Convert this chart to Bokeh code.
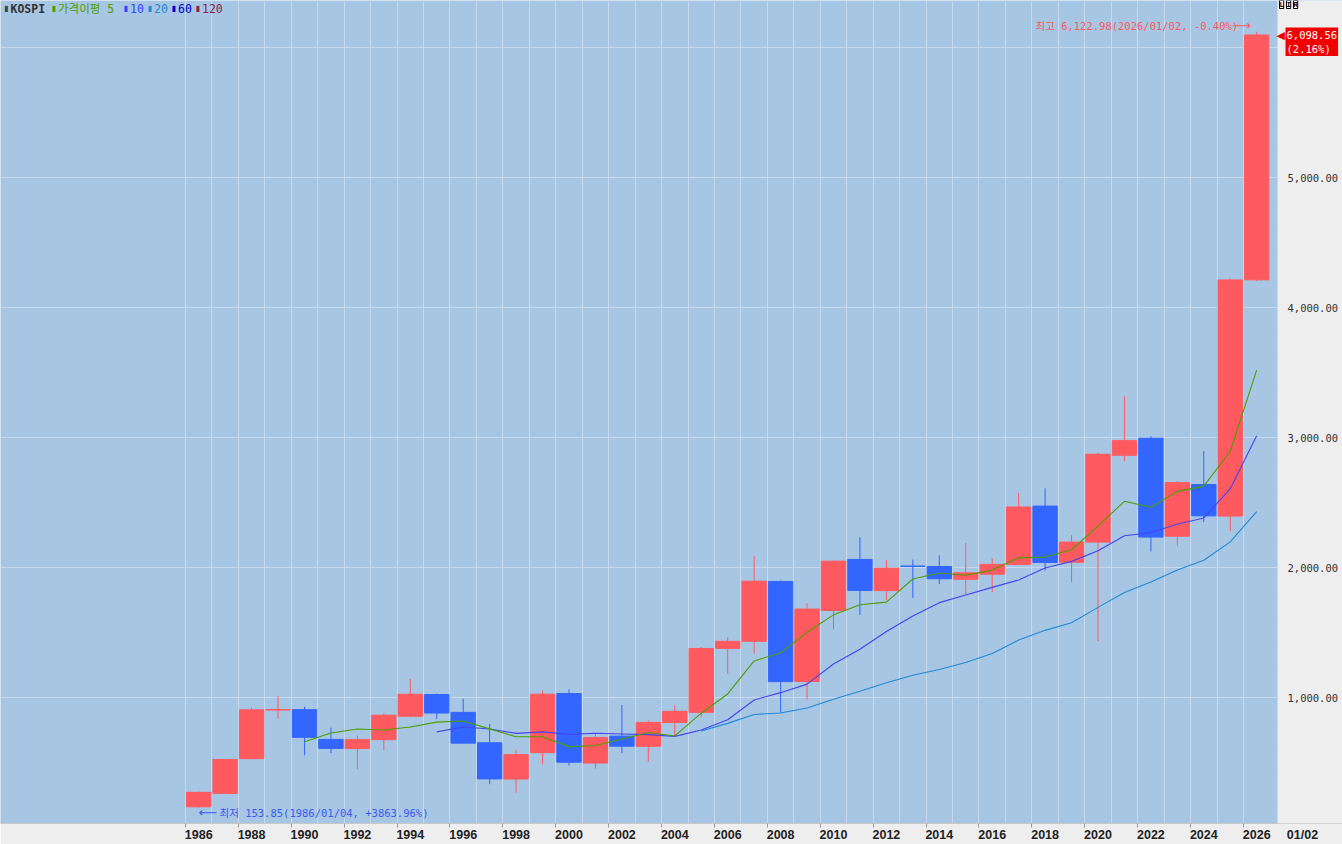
from bokeh.plotting import figure
from bokeh.models import Range1d, FixedTicker, Label, ColumnDataSource, BoxAnnotation
from bokeh.embed import file_html
from bokeh.resources import INLINE

# ---------------- data (yearly KOSPI candles) ----------------
years = list(range(1986, 2027))
opens = [161.4, 264.8, 532.0, 906.0, 908.6, 679.8, 610.0, 678.0, 858.0, 1025.0,
         888.0, 654.0, 375.0, 578.0, 1033.0, 498.0, 705.0, 627.0, 810.0, 888.0,
         1380.0, 1435.0, 1895.0, 1125.0, 1672.0, 2064.0, 1825.0, 2013.0, 2010.0, 1912.0,
         1951.0, 2026.5, 2475.0, 2043.0, 2197.7, 2866.0, 2997.0, 2243.0, 2641.0, 2398.0,
         4215.0]
highs = [279.7, 525.1, 922.6, 1012.0, 932.0, 770.0, 710.0, 879.0, 1145.0, 1033.0,
         994.0, 800.0, 600.0, 1055.0, 1065.0, 720.0, 945.0, 825.0, 942.0, 1390.0,
         1465.0, 2090.0, 1903.0, 1727.0, 2058.0, 2235.0, 2058.0, 2064.0, 2095.0, 2189.0,
         2073.0, 2575.0, 2612.0, 2250.0, 2884.0, 3320.0, 3012.0, 2667.0, 2898.0, 4226.0,
         6122.98]
lows = [153.85, 264.8, 527.9, 840.0, 558.0, 574.0, 451.0, 597.0, 850.0, 835.0,
        651.2, 335.0, 270.0, 488.0, 478.0, 455.0, 574.0, 510.0, 708.0, 855.0,
        1186.0, 1340.0, 886.0, 987.0, 1526.0, 1637.0, 1750.0, 1767.0, 1875.0, 1795.0,
        1813.0, 2020.0, 1980.0, 1888.0, 1435.0, 2820.0, 2125.0, 2172.0, 2351.0, 2282.0,
        4205.0]
closes = [272.6, 525.1, 907.2, 909.7, 696.1, 610.9, 678.4, 866.2, 1027.4, 882.9,
          651.2, 376.3, 562.5, 1028.1, 504.6, 693.7, 627.6, 810.7, 895.9, 1379.4,
          1434.5, 1897.1, 1124.5, 1682.8, 2051.0, 1825.7, 1997.1, 2011.3, 1915.6, 1961.3,
          2026.5, 2467.5, 2041.0, 2197.7, 2873.5, 2977.7, 2236.4, 2655.3, 2399.5, 4214.2,
          6098.56]

# moving-average lines (가격이평 5 / 10 / 20)
ma5_years = list(range(1990, 2027))
ma5 = [662.1, 729.8, 760.5, 752.3, 775.8, 813.2, 821.2, 760.8, 700.1, 700.2,
       624.5, 633.0, 683.3, 732.9, 706.5, 881.5, 1029.6, 1283.5, 1346.3, 1503.7,
       1638.0, 1716.2, 1736.2, 1913.6, 1960.1, 1942.2, 1982.4, 2076.4, 2082.4, 2138.8,
       2321.2, 2511.5, 2465.3, 2588.1, 2628.5, 2896.6, 3520.8]
ma10_years = list(range(1995, 2027))
ma10 = [737.7, 775.5, 760.6, 726.2, 738.0, 718.9, 727.1, 722.1, 716.5, 703.4,
        753.0, 831.3, 983.4, 1039.6, 1105.1, 1259.7, 1372.9, 1509.9, 1629.9, 1731.9,
        1790.1, 1849.3, 1906.3, 1998.0, 2049.5, 2131.7, 2246.9, 2270.9, 2335.3, 2383.6,
        2608.9, 3016.1]
ma20_years = list(range(2005, 2027))
ma20 = [745.3, 803.4, 872.0, 882.9, 921.5, 989.3, 1050.0, 1116.0, 1173.2, 1217.6,
        1271.5, 1340.3, 1444.9, 1518.8, 1577.3, 1695.7, 1809.9, 1890.4, 1982.6, 2057.8,
        2199.5, 2432.7]

x_label_years = list(range(1986, 2027, 2))
y_label_ticks = [1000, 2000, 3000, 4000, 5000]
y_tick_labels = ["1,000.00", "2,000.00", "3,000.00", "4,000.00", "5,000.00"]
y_minor_ticks = [v for v in range(200, 6400, 200)]
y_grid_ticks = [1000, 2000, 3000, 4000, 5000, 6000]

high_text = "최고 6,122.98(2026/01/02, -0.40%)"
low_text = "최저 153.85(1986/01/04, +3863.96%)"
last_text = "6,098.56\n(2.16%)"
date_text = "01/02"

# ---------------- styles / geometry ----------------
RED = "#ff5a5f"
BLUE = "#3366ff"
BG = "#a7c6e3"
GRID = "#c5daee"
PANEL = "#eeeeee"
MONO = "DejaVu Sans Mono, Noto Sans CJK KR"
W, H = 1342, 844
X0, X1 = 1978.507, 2029.244       # frame spans the full canvas width
PX_PER_YEAR = W / (X1 - X0)
PANEL_LEFT = 2026.786              # where the price-axis panel begins


def px2x(px):
    return X0 + px / PX_PER_YEAR


colors = [RED if c >= o else BLUE for o, c in zip(opens, closes)]
src = ColumnDataSource(dict(
    x=years, o=opens, h=highs, l=lows, c=closes,
    top=[max(o, c) for o, c in zip(opens, closes)],
    bottom=[min(o, c) for o, c in zip(opens, closes)],
    color=colors,
))

p = figure(width=W, height=H, output_backend="svg", toolbar_location=None,
           x_range=Range1d(X0, X1), y_range=Range1d(33.1, 6363.8),
           y_axis_location=None, min_border_left=0, min_border_top=0,
           min_border_right=0, min_border_bottom=21)
p.background_fill_color = BG
p.border_fill_color = PANEL
p.outline_line_color = None

# grid
p.xgrid.ticker = FixedTicker(ticks=[y - 0.5 for y in years])
p.ygrid.ticker = FixedTicker(ticks=y_grid_ticks)
p.grid.grid_line_color = GRID
p.grid.grid_line_width = 1

# x axis (years + the current date in the corner)
date_x = px2x(1302)
xa = p.xaxis[0]
xa.ticker = FixedTicker(ticks=x_label_years + [date_x],
                        minor_ticks=[y - 0.5 for y in x_label_years])
overrides = {y: str(y) for y in x_label_years}
overrides[date_x] = date_text
xa.major_label_overrides = overrides
xa.major_tick_line_color = None
xa.major_tick_out = 0
xa.major_tick_in = 0
xa.minor_tick_line_color = "#9a9a9a"
xa.minor_tick_out = 4
xa.minor_tick_in = 0
xa.axis_line_color = "#c8c8c8"
xa.major_label_text_font = "Liberation Sans"
xa.major_label_text_font_style = "bold"
xa.major_label_text_font_size = "12.5px"
xa.major_label_text_color = "#222222"
xa.major_label_standoff = 0

# candles
p.segment(x0="x", y0="l", x1="x", y1="h", source=src, line_color="color", line_width=1)
p.vbar(x="x", width=0.92, top="top", bottom="bottom", source=src,
       fill_color="color", line_color="color", line_width=1)

# moving averages
p.line(ma20_years, ma20, line_color="#1f8ad8", line_width=1.1)
p.line(ma10_years, ma10, line_color="#4444f4", line_width=1.1)
p.line(ma5_years, ma5, line_color="#4d9e00", line_width=1.1)

# price-axis panel on the right
p.add_layout(BoxAnnotation(left=PANEL_LEFT, fill_color=PANEL, fill_alpha=1.0,
                           line_color=None))
p.segment(x0=[PANEL_LEFT] * len(y_minor_ticks), y0=y_minor_ticks,
          x1=[px2x(1280)] * len(y_minor_ticks), y1=y_minor_ticks,
          line_color="#aaaaaa", line_width=1, level="annotation")
p.segment(x0=[PANEL_LEFT] * len(y_label_ticks), y0=y_label_ticks,
          x1=[px2x(1282.5)] * len(y_label_ticks), y1=y_label_ticks,
          line_color="#888888", line_width=1, level="annotation")
for v, t in zip(y_label_ticks, y_tick_labels):
    p.add_layout(Label(x=px2x(1287), y=v, text=t, text_font="DejaVu Sans Mono",
                       text_font_size="10.5px", text_color="#333333",
                       text_baseline="middle"))


def cv(px, py, **kw):
    """Label placed in canvas pixels (origin top-left)."""
    return Label(x=px, y=py, x_units="canvas", y_units="canvas", **kw)


# annotations: high / low markers
p.add_layout(cv(1035, 25, text=high_text, text_font=MONO, text_font_size="10.5px",
                text_color=RED, text_baseline="middle"))
p.add_layout(cv(1232, 25, text="⟶", text_font="DejaVu Sans", text_font_size="13px",
                text_color=RED, text_baseline="middle"))
p.add_layout(cv(198, 812, text="⟵", text_font="DejaVu Sans", text_font_size="13px",
                text_color="#3c5af0", text_baseline="middle"))
p.add_layout(cv(219, 812, text=low_text, text_font=MONO, text_font_size="10.5px",
                text_color="#3c5af0", text_baseline="middle"))

# last price box on the price axis
p.add_layout(cv(1276, 35, text="◀", text_font="DejaVu Sans", text_font_size="11px",
                text_color="#f00000", text_baseline="middle"))
p.add_layout(cv(1285, 27, text=last_text, text_font=MONO, text_font_size="10.5px",
                text_color="white", text_baseline="top",
                background_fill_color="#f00000", background_fill_alpha=1.0, padding=1))

# L I R buttons
for i, t in enumerate(["L", "I", "R"]):
    p.add_layout(cv(1279 + i * 7, 0, text=t, text_font="DejaVu Sans Mono",
                    text_font_size="7px", text_font_style="bold", text_color="black",
                    text_baseline="top", background_fill_color="white",
                    border_line_color="black", padding=0))

# legend (top-left)
legend_items = [
    (4.5, "KOSPI", "#444444", "#333333", "bold"),
    (52.0, "가격이평 5", "#4d9e00", "#4d9e00", "normal"),
    (124.0, "10", "#3344ff", "#3344ff", "normal"),
    (148.0, "20", "#1e8ad6", "#1e8ad6", "normal"),
    (172.0, "60", "#0000cc", "#0000cc", "normal"),
    (196.0, "120", "#8b1f4b", "#8b1f4b", "normal"),
]
for px, txt, bar_col, txt_col, style in legend_items:
    p.add_layout(cv(px - 1, 8, text="▮", text_font="DejaVu Sans", text_font_size="8px",
                    text_color=bar_col, text_baseline="middle"))
    p.add_layout(cv(px + 5.5, 8, text=txt, text_font=MONO, text_font_size="11.5px",
                    text_font_style=style, text_color=txt_col, text_baseline="middle"))

open("out.html", "w").write(file_html(p, INLINE))
